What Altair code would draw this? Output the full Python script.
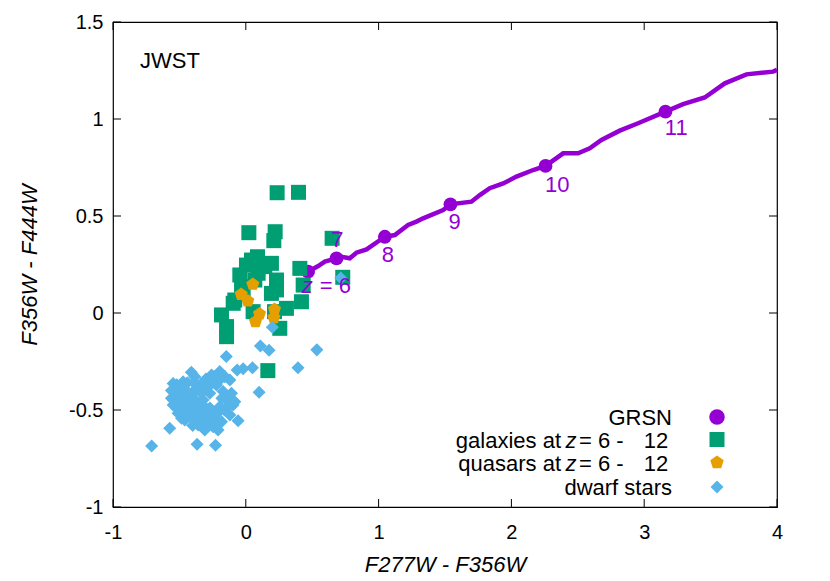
import altair as alt
import pandas as pd

# ---------------- data ----------------
# GRSN colour track (F277W-F356W, F356W-F444W)
track_x = [0.469, 0.545, 0.595, 0.683, 0.720, 0.783, 0.833, 0.909, 1.047, 1.122,
           1.222, 1.285, 1.335, 1.486, 1.541, 1.699, 1.762, 1.837, 1.938, 2.038,
           2.164, 2.257, 2.390, 2.502, 2.590, 2.678, 2.816, 2.954, 3.160, 3.293,
           3.456, 3.607, 3.770, 3.971, 4.000]
track_y = [0.213, 0.242, 0.265, 0.282, 0.290, 0.282, 0.311, 0.328, 0.393, 0.402,
           0.454, 0.471, 0.488, 0.531, 0.560, 0.574, 0.608, 0.643, 0.668, 0.703,
           0.737, 0.758, 0.823, 0.823, 0.849, 0.892, 0.940, 0.978, 1.038, 1.077,
           1.111, 1.184, 1.230, 1.244, 1.253]

# GRSN redshift markers
grsn_z = [6, 7, 8, 9, 10, 11]
grsn_x = [0.469, 0.683, 1.047, 1.541, 2.257, 3.160]
grsn_y = [0.213, 0.282, 0.393, 0.560, 0.758, 1.038]

# galaxies at z = 6 - 12
gal_x = [0.236, 0.397, 0.023, 0.221, 0.211, 0.650, 0.088, 0.193, 0.005, -0.045,
         0.407, 0.231, 0.432, 0.193, -0.083, 0.306, 0.419, -0.183, -0.145, -0.145,
         0.256, 0.055, 0.043, 0.143, -0.032, 0.068, 0.231, -0.095, 0.730, 0.166,
         0.216, 0.093, -0.020]
gal_y = [0.620, 0.622, 0.414, 0.419, 0.373, 0.385, 0.290, 0.256, 0.247, 0.196,
         0.230, 0.170, 0.144, 0.101, 0.067, 0.024, 0.058, -0.010, -0.070, -0.122,
         -0.079, 0.007, 0.273, 0.239, 0.136, 0.170, 0.119, 0.050, 0.184, -0.297,
         0.007, 0.205, 0.119]

# quasars at z = 6 - 12
qso_x = [0.053, -0.035, 0.015, 0.103, 0.073, 0.216, 0.211]
qso_y = [0.148, 0.096, 0.062, -0.005, -0.045, 0.019, -0.024]

# dwarf stars
dwarf_x = [-0.547, -0.472, -0.535, -0.484, -0.547, -0.510, -0.459, -0.409, -0.422, -0.371,
           -0.334, -0.258, -0.196, -0.158, -0.120, -0.221, -0.271, -0.322, -0.346, -0.296,
           -0.246, -0.196, -0.145, -0.108, -0.096, -0.120, -0.183, -0.246, -0.309, -0.359,
           -0.397, -0.434, -0.484, -0.510, -0.384, -0.233, -0.083, -0.334, -0.171, -0.209,
           0.200, 0.110, 0.175, 0.535, 0.393, 0.100, 0.050, -0.020, -0.065, -0.147,
           -0.058, -0.573, -0.709, -0.367, -0.228, -0.410, 0.715,
           -0.560, -0.560, -0.520, -0.520, -0.520, -0.500, -0.480, -0.480, -0.480, -0.450,
           -0.450, -0.450, -0.440, -0.420, -0.410, -0.400, -0.390, -0.380, -0.370, -0.360,
           -0.350, -0.330, -0.320, -0.310, -0.300, -0.290, -0.270, -0.260, -0.250, -0.220,
           -0.210, -0.190, -0.180, -0.160, -0.130, -0.130, -0.280, -0.340, -0.400]
dwarf_y = [-0.363, -0.354, -0.414, -0.431, -0.474, -0.517, -0.552, -0.500, -0.431, -0.388,
           -0.363, -0.320, -0.302, -0.328, -0.345, -0.371, -0.414, -0.448, -0.500, -0.534,
           -0.517, -0.483, -0.448, -0.414, -0.474, -0.526, -0.560, -0.586, -0.603, -0.577,
           -0.543, -0.474, -0.543, -0.388, -0.328, -0.328, -0.457, -0.414, -0.405, -0.603,
           -0.074, -0.170, -0.192, -0.190, -0.282, -0.409, -0.282, -0.287, -0.294, -0.224,
           -0.555, -0.594, -0.686, -0.677, -0.682, -0.305, 0.180,
           -0.400, -0.440, -0.370, -0.450, -0.490, -0.420, -0.370, -0.470, -0.510, -0.400,
           -0.440, -0.520, -0.360, -0.470, -0.540, -0.410, -0.360, -0.450, -0.500, -0.550,
           -0.390, -0.470, -0.520, -0.570, -0.340, -0.380, -0.490, -0.550, -0.360, -0.520,
           -0.570, -0.340, -0.440, -0.500, -0.430, -0.480, -0.580, -0.580, -0.580]

x_ticks = [-1, 0, 1, 2, 3, 4]
y_ticks = [-1, -0.5, 0, 0.5, 1, 1.5]

legend_labels = ["GRSN", "galaxies at", "quasars at", "dwarf stars"]

# ---------------- styling ----------------
W, H = 664, 485
PURPLE = "#9400D3"
GREEN = "#009E73"
ORANGE = "#E69F00"
BLUE = "#56B4E9"
FONT = "Liberation Sans"
PENTAGON = "M0,-1L0.951,-0.309L0.588,0.809L-0.588,0.809L-0.951,-0.309Z"

track_df = pd.DataFrame({"x": track_x, "y": track_y, "i": range(len(track_x))})
grsn_df = pd.DataFrame({"x": grsn_x, "y": grsn_y, "z": grsn_z})
gal_df = pd.DataFrame({"x": gal_x, "y": gal_y})
qso_df = pd.DataFrame({"x": qso_x, "y": qso_y})
dwarf_df = pd.DataFrame({"x": dwarf_x, "y": dwarf_y})
one = pd.DataFrame({"k": [0]})

xs = alt.Scale(domain=[-1, 4], nice=False, zero=False)
ys = alt.Scale(domain=[-1, 1.5], nice=False, zero=False)

label_expr = "datum.value < 0 ? '-' + format(-datum.value, '~g') : format(datum.value, '~g')"

xaxis = alt.Axis(values=x_ticks, title="F277W - F356W", grid=False, ticks=False, domain=False,
                 labelFont=FONT, labelFontSize=20, labelColor="black", labelPadding=31,
                 labelBaseline="alphabetic", labelFlush=False, labelOverlap=False,
                 labelExpr=label_expr,
                 titleFont=FONT, titleFontSize=22, titleFontStyle="italic",
                 titleFontWeight="normal", titleColor="black",
                 titleY=64, titleBaseline="alphabetic")
yaxis = alt.Axis(values=y_ticks, title="F356W - F444W", grid=False, ticks=False, domain=False,
                 labelFont=FONT, labelFontSize=20, labelColor="black", labelPadding=10,
                 labelFlush=False, labelOverlap=False, labelExpr=label_expr,
                 titleFont=FONT, titleFontSize=22, titleFontStyle="italic",
                 titleFontWeight="normal", titleColor="black",
                 titleX=-77, titleY=H / 2, titleAngle=270, titleBaseline="alphabetic")

X = alt.X("x:Q", scale=xs, axis=xaxis)
Y = alt.Y("y:Q", scale=ys, axis=yaxis)

layers = []

# inward ticks on all four sides
xt_df = pd.DataFrame({"x": x_ticks})
yt_df = pd.DataFrame({"y": y_ticks})
TL = 8
layers.append(alt.Chart(xt_df).mark_rule(color="black", strokeWidth=1).encode(
    x=alt.X("x:Q", scale=xs, axis=xaxis), y=alt.value(H), y2=alt.value(H - TL)))
layers.append(alt.Chart(xt_df).mark_rule(color="black", strokeWidth=1).encode(
    x=alt.X("x:Q", scale=xs), y=alt.value(0), y2=alt.value(TL)))
layers.append(alt.Chart(yt_df).mark_rule(color="black", strokeWidth=1).encode(
    y=alt.Y("y:Q", scale=ys, axis=yaxis), x=alt.value(0), x2=alt.value(TL)))
layers.append(alt.Chart(yt_df).mark_rule(color="black", strokeWidth=1).encode(
    y=alt.Y("y:Q", scale=ys), x=alt.value(W), x2=alt.value(W - TL)))

# GRSN track + markers
layers.append(alt.Chart(track_df).mark_line(color=PURPLE, strokeWidth=4.5).encode(
    x=X, y=Y, order="i:Q"))
layers.append(alt.Chart(grsn_df).mark_point(shape="circle", filled=True, opacity=1,
                                            color=PURPLE, size=190).encode(x=X, y=Y))

# observed populations
layers.append(alt.Chart(gal_df).mark_point(shape="square", filled=True, opacity=1,
                                           color=GREEN, size=225).encode(x=X, y=Y))
layers.append(alt.Chart(qso_df).mark_point(shape=PENTAGON, filled=True, opacity=1,
                                           color=ORANGE, size=190).encode(x=X, y=Y))
layers.append(alt.Chart(dwarf_df).mark_point(shape="diamond", filled=True, opacity=1,
                                             color=BLUE, size=170).encode(x=X, y=Y))

# redshift labels along the track
label_offsets = {6: (11.7, 14.8), 7: (0.8, -18.3), 8: (3, 18.3), 9: (4.3, 17.4),
                 10: (11.6, 19), 11: (10.8, 16.6)}
for z in grsn_z:
    dx, dy = label_offsets[z]
    base = alt.Chart(grsn_df).transform_filter(alt.datum.z == z)
    if z == 6:
        layers.append(base.mark_text(font=FONT, fontSize=22, color=PURPLE, align="left",
                                     baseline="middle", dx=dx, dy=dy).encode(
            x=X, y=Y, text=alt.value("= 6")))
        layers.append(base.mark_text(font=FONT, fontSize=22, color=PURPLE, align="center",
                                     fontStyle="italic", baseline="middle", dx=-0.8, dy=dy).encode(
            x=X, y=Y, text=alt.value("z")))
    else:
        layers.append(base.mark_text(font=FONT, fontSize=22, color=PURPLE, align="center",
                                     baseline="middle", dx=dx, dy=dy).encode(
            x=X, y=Y, text="z:N"))

# JWST tag
layers.append(alt.Chart(one).mark_text(font=FONT, fontSize=22, color="black", align="left",
                                       baseline="middle").encode(
    x=alt.value(27), y=alt.value(39), text=alt.value("JWST")))

# custom gnuplot-style key
key_y = [395, 417.5, 440.5, 465]
key_colors = [PURPLE, GREEN, ORANGE, BLUE]
key_shapes = ["circle", "square", PENTAGON, "diamond"]
key_sizes = [240, 225, 200, 170]


def key_text(txt, xpos, ypos, align, style="normal"):
    return alt.Chart(one).mark_text(font=FONT, fontSize=22, color="black", align=align,
                                    fontStyle=style, baseline="middle").encode(
        x=alt.value(xpos), y=alt.value(ypos), text=alt.value(txt))


for i in range(4):
    ky = key_y[i] + 1
    if i in (1, 2):
        layers.append(key_text(legend_labels[i], 448, ky, "right"))
        layers.append(key_text("z", 458, ky, "center", "italic"))
        layers.append(key_text("= 6", 466, ky, "left"))
        layers.append(key_text("-", 507, ky, "center"))
        layers.append(key_text("12", 543, ky, "center"))
    else:
        layers.append(key_text(legend_labels[i], 559, ky, "right"))
    layers.append(alt.Chart(one).mark_point(shape=key_shapes[i], filled=True, opacity=1,
                                            color=key_colors[i], size=key_sizes[i]).encode(
        x=alt.value(604), y=alt.value(key_y[i])))

chart = alt.layer(*layers).properties(
    width=W, height=H,
    autosize=alt.AutoSizeParams(type="none"),
    padding={"left": 105, "top": 14, "right": 30, "bottom": 66},
).configure_view(stroke="black", strokeWidth=1.2)

chart.save("out.html", embed_options={"renderer": "svg", "actions": False})
